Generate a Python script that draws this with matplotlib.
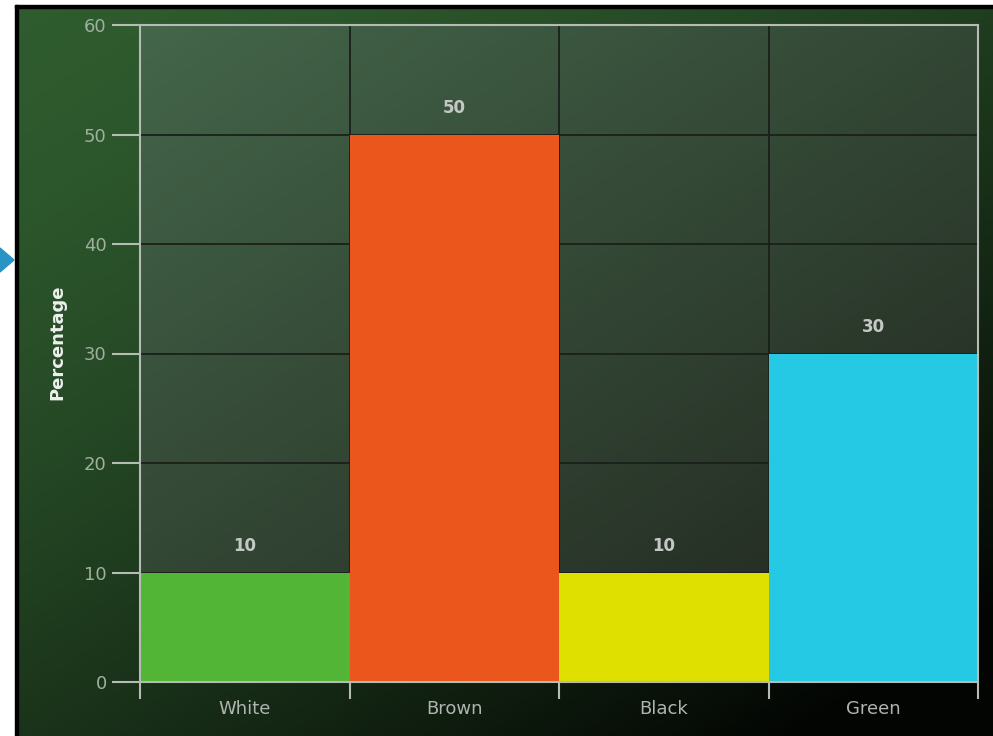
import numpy as np
import matplotlib.pyplot as plt
from matplotlib.colors import LinearSegmentedColormap
from matplotlib.patches import Polygon, Rectangle

categories = ['White', 'Brown', 'Black', 'Green']
values = [10, 50, 10, 30]
colors = ['#52b535', '#ea561c', '#dfe000', '#26c9e3']
yticks = [0, 10, 20, 30, 40, 50, 60]

W, H = 993, 736
fig = plt.figure(figsize=(W / 100, H / 100), dpi=100)
fig.patch.set_facecolor('white')


def diag_gradient(c0, c1, wx, wy, gamma=1.0):
    xx, yy = np.meshgrid(np.linspace(0, 1, 200), np.linspace(0, 1, 200))
    t = np.clip(wx * xx + wy * yy, 0, 1) ** gamma
    cmap = LinearSegmentedColormap.from_list('g', [c0, c1])
    return t, cmap


# outer dark-green panel
bg = fig.add_axes([15 / W, 0, 1 - 15 / W, 1 - 8 / H])
t, cm = diag_gradient('#2f5c2f', '#030503', 0.5, 0.6, 1.5)
bg.imshow(t, cmap=cm, aspect='auto', extent=[0, 1, 1, 0])
bg.set_axis_off()
fig.add_artist(Rectangle((15 / W, 0), 3 / W, 1 - 5 / H, transform=fig.transFigure,
                         color='black', zorder=5))
fig.add_artist(Rectangle((15 / W, 1 - 8 / H), 1 - 15 / W, 3 / H, transform=fig.transFigure,
                         color='black', zorder=5))

# small blue pointer on the left edge
fig.add_artist(Polygon([[0, 1 - 248 / H], [14 / W, 1 - 260 / H], [0, 1 - 272 / H]],
                       closed=True, transform=fig.transFigure, color='#2a93c6', zorder=6))

left, right, top, bottom = 140, 978, 25, 682
ax = fig.add_axes([left / W, 1 - bottom / H, (right - left) / W, (bottom - top) / H])
ax.set_facecolor('none')
t2, cm2 = diag_gradient('#44664a', '#222820', 0.5, 0.6, 1.0)
ax.imshow(t2, cmap=cm2, aspect='auto', extent=[-0.5, 3.5, 0, 60], zorder=0)

x = np.arange(len(categories))
ax.bar(x, values, width=1.0, color=colors, zorder=3)
for xi, v in zip(x, values):
    ax.text(xi, v + 2.4, str(v), ha='center', va='center', color='#c4c8c4',
            fontsize=12, fontweight='bold', zorder=4)

ax.set_xlim(-0.5, 3.5)
ax.set_ylim(0, 60)

# grid lines
for y in yticks[1:-1]:
    ax.axhline(y, color='#1a201a', lw=1.3, zorder=1)
for b in np.arange(0.5, 3.5, 1):
    ax.axvline(b, color='#1a201a', lw=1.3, zorder=1)

ax.set_yticks(yticks)
ax.set_yticklabels([str(v) for v in yticks], color='#9fb09f', fontsize=13)
ax.tick_params(axis='y', length=20, width=1.5, color='#b4bcb4', pad=4)

ax.set_xticks(np.arange(-0.5, 4, 1))
ax.set_xticklabels([])
ax.tick_params(axis='x', which='major', length=12, width=1.5, color='#b4bcb4')
ax.set_xticks(x, minor=True)
ax.set_xticklabels(categories, minor=True, color='#b0b4b0', fontsize=13)
ax.tick_params(axis='x', which='minor', length=0, pad=13)

for s in ax.spines.values():
    s.set_color('#b4bcb4')
    s.set_linewidth(1.5)
    s.set_zorder(5)

fig.text(57 / W, 1 - 342 / H, 'Percentage', rotation=90, ha='center', va='center',
         color='#eef0ee', fontsize=13, fontweight='bold')

fig.savefig('out.png', dpi=100)
